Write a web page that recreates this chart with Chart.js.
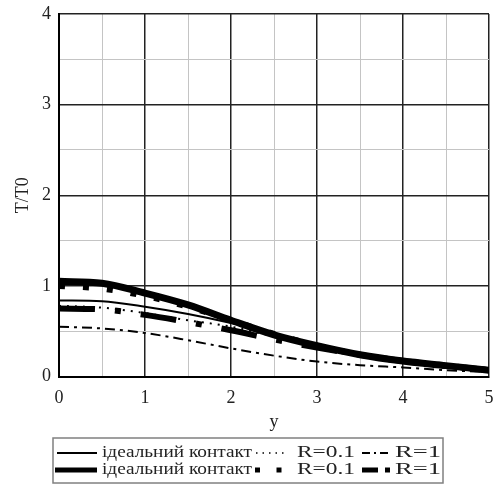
<!DOCTYPE html>
<html><head><meta charset="utf-8">
<script src="https://cdn.jsdelivr.net/npm/chart.js@4.4.0/dist/chart.umd.min.js"></script>
<style>html,body{margin:0;padding:0;background:#fff}#wrap{width:497px;height:487px}</style>
</head><body><div id="wrap"><canvas id="c" width="497" height="487"></canvas></div>
<script>
const xValues = [0, 0.5, 1, 1.5, 2, 2.5, 3, 3.5, 4, 4.5, 5];
const idealThin = [0.84, 0.83, 0.77, 0.69, 0.59, 0.47, 0.35, 0.25, 0.16, 0.10, 0.05];
const r01Thin   = [0.78, 0.76, 0.70, 0.62, 0.55, 0.44, 0.33, 0.24, 0.16, 0.10, 0.05];
const r1Thin    = [0.55, 0.53, 0.48, 0.40, 0.31, 0.23, 0.165, 0.125, 0.10, 0.07, 0.05];
const idealThick = [1.05, 1.03, 0.92, 0.79, 0.62, 0.46, 0.34, 0.24, 0.17, 0.12, 0.07];
const r01Thick   = [1.00, 0.97, 0.89, 0.77, 0.62, 0.47, 0.34, 0.24, 0.17, 0.12, 0.07];
const r1Thick    = [0.75, 0.74, 0.68, 0.60, 0.51, 0.41, 0.32, 0.24, 0.17, 0.12, 0.07];
const xTicks = [0, 1, 2, 3, 4, 5];
const yTicks = [0, 1, 2, 3, 4];
const legendLabels = ['ідеальний контакт', 'R=0.1', 'R=1'];

const pts = arr => arr.map((v, i) => ({x: xValues[i], y: v}));
const SERIF = '"Liberation Serif", "DejaVu Serif", serif';

function ds(label, arr, w, dash) {
  return {label, data: pts(arr), borderColor: '#000', borderWidth: w, borderDash: dash,
    borderCapStyle: 'butt', pointRadius: 0, cubicInterpolationMode: 'monotone', fill: false};
}

const legendPlugin = {
  id: 'customLegend',
  afterDraw(chart) {
    const ctx = chart.ctx;
    ctx.save();
    ctx.strokeStyle = '#808080'; ctx.lineWidth = 1.5; ctx.setLineDash([]);
    ctx.strokeRect(53, 438, 390, 45);
    ctx.fillStyle = '#222';
    ctx.font = '17px ' + SERIF;
    ctx.textBaseline = 'middle';
    const drawText = (t, x, y, w) => {
      const m = ctx.measureText(t).width;
      ctx.save(); ctx.translate(x, y); ctx.scale(w / m, 1); ctx.fillText(t, 0, 0); ctx.restore();
    };
    const line = (x1, x2, y, lw, dash) => {
      ctx.beginPath(); ctx.lineWidth = lw; ctx.setLineDash(dash); ctx.lineCap = 'butt';
      ctx.strokeStyle = '#000'; ctx.moveTo(x1, y); ctx.lineTo(x2, y); ctx.stroke();
    };
    const y1 = 453, y2 = 470;
    line(57, 97, y1, 2, []);
    drawText(legendLabels[0], 102, y1, 150);
    line(256, 284, y1, 1.5, [1.5, 5]);
    drawText(legendLabels[1], 297, y1, 58);
    line(362, 390, y1, 2, [8, 4, 2, 4]);
    drawText(legendLabels[2], 395, y1, 46);
    line(55, 97, y2, 5, []);
    drawText(legendLabels[0], 102, y2, 150);
    line(255, 285, y2, 5, [5, 16.5]);
    drawText(legendLabels[1], 297, y2, 58);
    line(362, 391, y2, 5, [16, 7, 5, 10]);
    drawText(legendLabels[2], 395, y2, 46);
    ctx.restore();
  }
};

const gridColor = ctx => (Math.abs(ctx.tick.value - Math.round(ctx.tick.value)) < 1e-6 ? '#222' : '#c4c4c4');
const gridWidth = ctx => (Math.abs(ctx.tick.value - Math.round(ctx.tick.value)) < 1e-6 ? 1.5 : 1);
const intLabel = (list) => (v) => (list.includes(v) ? String(v) : '');

new Chart(document.getElementById('c'), {
  type: 'line',
  data: {datasets: [
    ds(legendLabels[0], idealThin, 2, []),
    ds(legendLabels[1], r01Thin, 2, [2, 6]),
    ds(legendLabels[2], r1Thin, 2, [10, 5, 3, 5]),
    ds(legendLabels[0], idealThick, 7, []),
    ds(legendLabels[1], r01Thick, 6, [6, 18]),
    ds(legendLabels[2], r1Thick, 6, [36, 20, 6, 20])
  ]},
  options: {
    responsive: false, animation: false,
    layout: {padding: {left: 0, right: 8, top: 14, bottom: 52}},
    plugins: {legend: {display: false}, tooltip: {enabled: false}},
    scales: {
      x: {type: 'linear', min: 0, max: 5,
        ticks: {stepSize: 0.5, autoSkip: false, maxRotation: 0, callback: intLabel(xTicks), color: '#222', font: {family: SERIF, size: 18}, padding: 10.5},
        grid: {color: gridColor, lineWidth: gridWidth, drawTicks: false},
        border: {color: '#000', width: 2},
        title: {display: true, text: 'y', color: '#222', font: {family: SERIF, size: 18}, padding: {top: 2, bottom: 2}},
        afterFit(scale) { scale.height = 58.5; scale.paddingLeft = 0; scale.paddingRight = 0; }
      },
      y: {min: 0, max: 4,
        ticks: {stepSize: 0.5, autoSkip: false, callback: intLabel(yTicks), color: '#222', font: {family: SERIF, size: 18}, padding: 8},
        grid: {color: gridColor, lineWidth: gridWidth, drawTicks: false},
        border: {color: '#000', width: 2},
        title: {display: true, text: 'T/T0', color: '#222', font: {family: SERIF, size: 18}, padding: {top: 12, bottom: 4}},
        afterFit(scale) { scale.width = 59; scale.paddingTop = 0; scale.paddingBottom = 0; }
      }
    }
  },
  plugins: [legendPlugin]
});
</script></body></html>
